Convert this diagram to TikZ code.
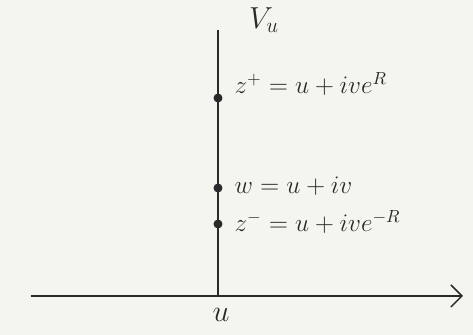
\documentclass[tikz,border=0pt]{standalone}
\usepackage{amsmath}
\usepackage{tikz}
\usetikzlibrary{positioning,arrows.meta}

\definecolor{paper}{HTML}{F5F5F0}
\definecolor{ink}{HTML}{2A2A2A}

\begin{document}
\begin{tikzpicture}[>={Straight Barb[length=2.2mm,width=4.4mm]},line width=0.85pt,
  every node/.style={text=ink, font=\Large},
  pt/.style={circle, fill=ink, inner sep=0pt, minimum size=1.8mm}]
  % paper, fixes the margins (1px = 0.02cm)
  \fill[paper] (-4.36,-0.78) rectangle (5.10,5.92);
  \useasboundingbox (-4.36,-0.78) rectangle (5.10,5.92);

  \coordinate (o) at (0,0);
  \coordinate (xl) at (-3.74,0);
  \coordinate (xr) at (4.90,0);
  \coordinate (top) at (0,5.32);

  \draw[ink,->] (xl) -- (xr);
  \draw[ink] (o) -- (top);

  \node (zp) [pt] at (0,3.96) {};
  \node (w) [pt] at (0,2.16) {};
  \node (zm) [pt] at (0,1.44) {};

  \node (vu) [font=\LARGE] at (0.92,5.52) {$V_u$};
  \node (zplab) [anchor=base west, xshift=0.2cm, yshift=0.08cm] at (zp) {$z^+ = u + ive^R$};
  \node (wlab) [anchor=base west, xshift=0.2cm, yshift=-0.12cm] at (w) {$w = u + iv$};
  \node (zmlab) [anchor=base west, xshift=0.2cm, yshift=-0.16cm] at (zm) {$z^- = u + ive^{-R}$};
  \node (ulab) [font=\LARGE, below=0.12cm of o, xshift=0.06cm] {$u$};
\end{tikzpicture}
\end{document}
